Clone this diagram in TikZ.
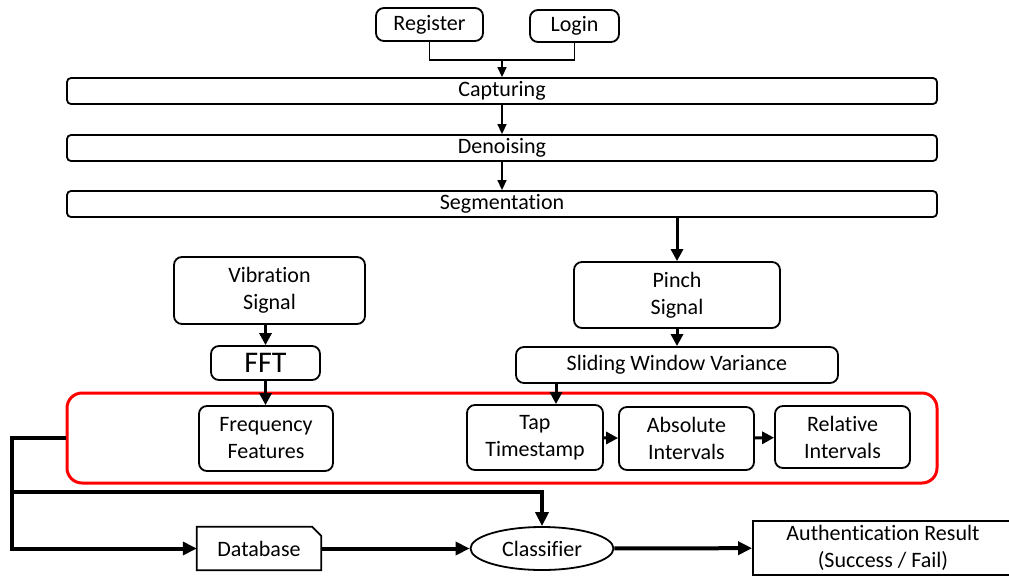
\documentclass[tikz,border=0pt]{standalone}
\usepackage{fontspec}
\setmainfont{Carlito}[Ligatures=NoCommon]
\usetikzlibrary{arrows.meta,shapes.geometric}

\tikzset{
  box/.style={draw,line width=1.8pt,rounded corners=8pt,align=center,inner sep=0pt,
    font=\fontsize{22}{27}\selectfont},
  bar/.style={box,rounded corners=4pt,minimum width=870pt,minimum height=26pt},
  arr/.style={-{Triangle[length=10pt,width=9pt]},line width=1.5pt},
  mid/.style={-{Triangle[length=12pt,width=12pt]},line width=3pt},
  bus/.style={line width=4pt},
}

\begin{document}
\begin{tikzpicture}[x=1pt,y=-1pt]
\useasboundingbox (0,0) rectangle (1009,576);
% entry points
\node[box,minimum width=107pt,minimum height=33pt] (reg) at (429.5,24.5) {Register};
\node[box,minimum width=89pt,minimum height=32pt] (login) at (574.5,26) {Login};
\coordinate (join) at (502,60);
\draw[line width=1.5pt] (reg.south) |- (join) -| (login.south);
% preprocessing chain
\node[bar] (cap) at (502,91) {Capturing};
\node[bar] (den) at (502,148) {Denoising};
\node[bar] (seg) at (502,204) {Segmentation};
\draw[arr] (join)--(cap);
\draw[arr] (cap)--(den);
\draw[arr] (den)--(seg);
% the two signals
\node[box,minimum width=191pt,minimum height=67pt] (vib) at (269.5,290.5) {Vibration\\Signal};
\node[box,minimum width=206pt,minimum height=66pt] (pinch) at (677,295) {Pinch\\Signal};
\node[box,minimum width=109pt,minimum height=34pt,font=\fontsize{30}{32}\selectfont] (fft) at (265.5,363) {FFT};
\node[box,minimum width=322pt,minimum height=36pt] (slide) at (677,365) {Sliding Window Variance};
\draw[mid] (seg.south -| pinch.north)--(pinch.north);
\draw[mid] (vib.south -| fft.north)--(fft.north);
\draw[mid] (pinch)--(slide);
% feature extraction
\node[draw=red,line width=3pt,rounded corners=15pt,minimum width=870pt,minimum height=90pt] (feat) at (502,438) {};
\node[box,minimum width=134pt,minimum height=65pt] (ff) at (266,438.5) {Frequency\\Features};
\node[box,minimum width=136pt,minimum height=65pt] (tap) at (535,437.5) {Tap\\Timestamp};
\node[box,minimum width=135pt,minimum height=63pt] (abs) at (686.5,438.5) {Absolute\\Intervals};
\node[box,minimum width=135pt,minimum height=62pt] (rel) at (842.5,437) {Relative\\Intervals};
\draw[mid] (fft.south)--(fft.south |- ff.north);
\path (tap.north) ++(21,0) coordinate (tapin);
\draw[mid] (tapin |- slide.south)--(tapin);
\draw[mid] (tap)--(abs);
\draw[mid] (abs)--(rel);
% storage and decision
\node[inner sep=0pt,minimum width=124pt,minimum height=43pt,font=\fontsize{22}{27}\selectfont] (db) at (259,548.5) {Database};
\draw[line width=1.8pt] (db.south west)--(db.north west)--([xshift=-9pt]db.north east)
  --([yshift=-9pt]db.north east)--(db.south east)--cycle;
\node[draw,ellipse,line width=1.8pt,inner sep=0pt,minimum width=143pt,minimum height=43pt,
  font=\fontsize{22}{27}\selectfont] (cls) at (542,548.5) {Classifier};
\node[draw,line width=1.8pt,inner sep=0pt,minimum width=260pt,minimum height=54pt,align=center,
  font=\fontsize{22}{27}\selectfont] (res) at (883,548) {Authentication Result\\(Success / Fail)};
\coordinate (lft) at (12,438);
\coordinate (split) at (12,492);
\draw[bus,-{Triangle[length=14pt,width=13pt]}] (feat.west)--(lft) |- (db.west);
\draw[bus,-{Triangle[length=14pt,width=13pt]}] (split) -| (cls.north);
\draw[bus,-{Triangle[length=14pt,width=13pt]}] (db)--(cls);
\draw[bus,-{Triangle[length=14pt,width=13pt]}] (cls)--(res);
\end{tikzpicture}
\end{document}
